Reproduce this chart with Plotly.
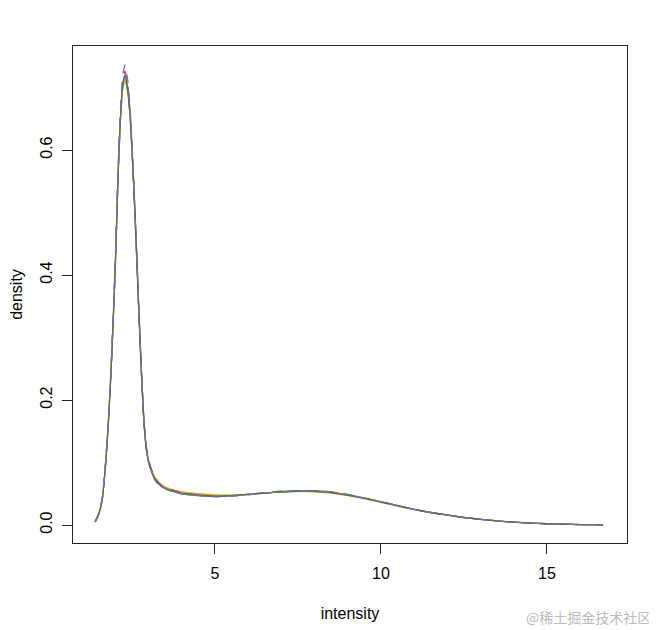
import plotly.graph_objects as go

# 강도 격자 (x)
intensity = [1.39, 1.50, 1.60, 1.70, 1.80, 1.90, 2.00, 2.08, 2.15, 2.22, 2.29, 2.36, 2.44, 2.53,
             2.62, 2.70, 2.78, 2.86, 2.95, 3.05, 3.20, 3.40, 3.65, 4.0, 4.5, 5.0, 5.5, 6.0, 6.5,
             7.0, 7.5, 8.0, 8.5, 9.0, 9.5, 10.0, 10.5, 11.0, 11.5, 12.0, 12.5, 13.0, 13.5, 14.0,
             14.5, 15.0, 15.5, 16.0, 16.69]

# 샘플별 밀도
dens_s1 = [0.005, 0.018, 0.040, 0.095, 0.175, 0.285, 0.420, 0.560, 0.650, 0.705, 0.720, 0.702, 0.660, 0.570,
           0.460, 0.350, 0.250, 0.165, 0.115, 0.092, 0.073, 0.062, 0.056, 0.051, 0.048, 0.046, 0.047, 0.049, 0.051,
           0.053, 0.054, 0.054, 0.052, 0.048, 0.043, 0.037, 0.031, 0.025, 0.020, 0.016, 0.012, 0.009, 0.0065, 0.0045,
           0.003, 0.002, 0.0012, 0.0007, 0.0003]
dens_s2 = [0.005, 0.017, 0.039, 0.093, 0.172, 0.282, 0.416, 0.556, 0.646, 0.700, 0.715, 0.698, 0.655, 0.566,
           0.456, 0.347, 0.248, 0.163, 0.113, 0.090, 0.071, 0.060, 0.055, 0.050, 0.047, 0.046, 0.047, 0.049, 0.052,
           0.054, 0.055, 0.055, 0.053, 0.049, 0.043, 0.037, 0.031, 0.025, 0.020, 0.016, 0.012, 0.009, 0.0065, 0.0045,
           0.003, 0.002, 0.0012, 0.0007, 0.0003]
dens_s3 = [0.006, 0.019, 0.042, 0.098, 0.179, 0.290, 0.428, 0.570, 0.662, 0.720, 0.736, 0.716, 0.670, 0.576,
           0.463, 0.352, 0.250, 0.164, 0.114, 0.091, 0.072, 0.061, 0.055, 0.050, 0.047, 0.045, 0.046, 0.048, 0.051,
           0.053, 0.054, 0.054, 0.052, 0.048, 0.043, 0.037, 0.031, 0.025, 0.020, 0.016, 0.012, 0.009, 0.0065, 0.0045,
           0.003, 0.002, 0.0012, 0.0007, 0.0003]
dens_s4 = [0.005, 0.018, 0.040, 0.094, 0.173, 0.283, 0.418, 0.557, 0.645, 0.698, 0.712, 0.695, 0.655, 0.568,
           0.460, 0.352, 0.253, 0.168, 0.118, 0.095, 0.076, 0.064, 0.058, 0.053, 0.050, 0.048, 0.048, 0.049, 0.051,
           0.053, 0.054, 0.053, 0.051, 0.047, 0.042, 0.036, 0.030, 0.025, 0.020, 0.016, 0.012, 0.009, 0.0065, 0.0045,
           0.003, 0.002, 0.0012, 0.0007, 0.0003]
dens_s5 = [0.005, 0.018, 0.041, 0.096, 0.176, 0.287, 0.423, 0.563, 0.655, 0.710, 0.726, 0.708, 0.664, 0.573,
           0.463, 0.353, 0.253, 0.168, 0.118, 0.094, 0.075, 0.063, 0.057, 0.052, 0.048, 0.046, 0.047, 0.049, 0.051,
           0.053, 0.054, 0.054, 0.052, 0.048, 0.043, 0.037, 0.031, 0.025, 0.020, 0.016, 0.012, 0.009, 0.0065, 0.0045,
           0.003, 0.002, 0.0012, 0.0007, 0.0003]
dens_s6 = [0.005, 0.018, 0.040, 0.095, 0.174, 0.284, 0.419, 0.559, 0.648, 0.703, 0.718, 0.700, 0.658, 0.569,
           0.459, 0.349, 0.249, 0.164, 0.114, 0.091, 0.072, 0.061, 0.055, 0.050, 0.047, 0.046, 0.047, 0.049, 0.051,
           0.054, 0.055, 0.055, 0.053, 0.048, 0.043, 0.037, 0.031, 0.025, 0.020, 0.016, 0.012, 0.009, 0.0065, 0.0045,
           0.003, 0.002, 0.0012, 0.0007, 0.0003]

x_ticks = [5, 10, 15]
y_ticks = [0.0, 0.2, 0.4, 0.6]

# (밀도, 색, 선 종류) - 그리는 순서대로
SERIES = [
    (dens_s4, "#E6AB02", "solid"),
    (dens_s5, "#E7298A", "dash"),
    (dens_s6, "#66A61E", "solid"),
    (dens_s2, "#1B9E77", "dash"),
    (dens_s1, "#666666", "solid"),
    (dens_s3, "#7570B3", "dash"),
]

FONT = "Liberation Sans, Arial, sans-serif"

fig = go.Figure()
for dens, color, dash in SERIES:
    fig.add_trace(go.Scatter(
        x=intensity,
        y=dens,
        mode="lines",
        line=dict(color=color, width=1.3, dash=dash, shape="spline", smoothing=0.6),
        showlegend=False,
        hoverinfo="skip",
    ))

axis_common = dict(
    showgrid=False,
    zeroline=False,
    showline=True,
    mirror=True,
    automargin=False,
    linecolor="#222222",
    linewidth=1,
    ticks="outside",
    ticklen=10,
    tickcolor="#222222",
    tickfont=dict(family=FONT, size=16, color="black"),
)

# 페이지 body 여백(8px)을 감안한 크기
fig.update_layout(
    width=649,
    height=622,
    paper_bgcolor="white",
    plot_bgcolor="white",
    margin=dict(l=65, r=30, t=38, b=87),
    font=dict(family=FONT, color="black"),
    xaxis=dict(
        **axis_common,
        range=[0.723, 17.41],
        tickvals=x_ticks,
        ticklabelstandoff=6,
        title=dict(text="intensity", font=dict(family=FONT, size=16), standoff=26),
    ),
    yaxis=dict(
        **axis_common,
        range=[-0.0288, 0.7664],
        tickvals=y_ticks,
        tickformat=".1f",
        tickangle=-90,
        ticklabelstandoff=4,
        title=dict(text="density", font=dict(family=FONT, size=16), standoff=14),
    ),
    annotations=[
        dict(
            text="@稀土掘金技术社区",
            xref="paper", yref="paper",
            x=1.0, y=0.0,
            xanchor="right", yanchor="top",
            xshift=26, yshift=-62,
            showarrow=False,
            font=dict(family="Noto Sans CJK SC", size=14, color="#BBBBBB"),
        )
    ],
)

fig.write_html("out.html")
